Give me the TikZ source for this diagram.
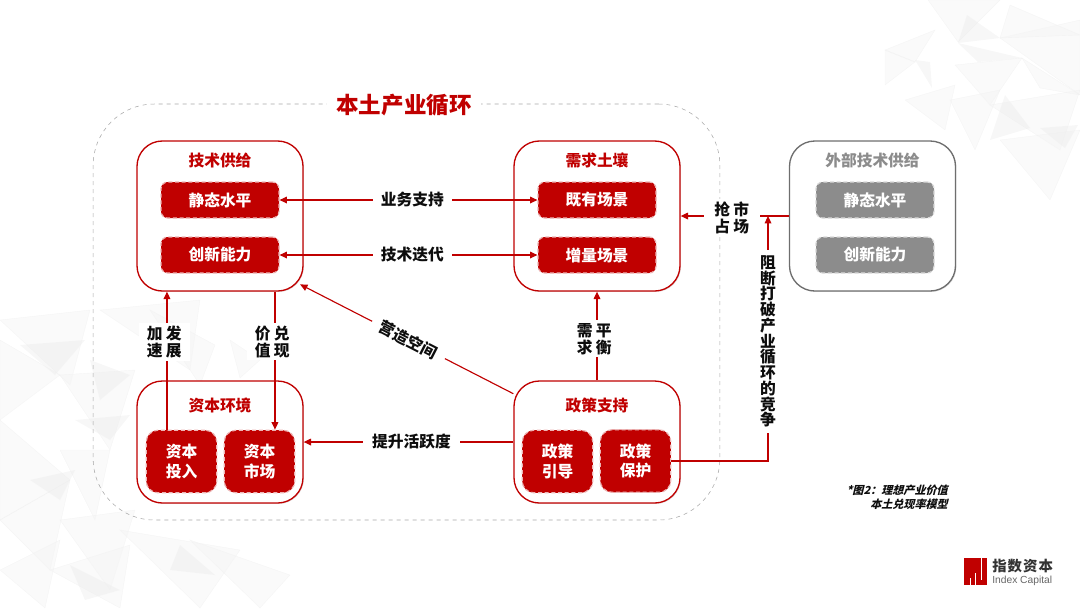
\documentclass[tikz,border=0pt]{standalone}
\usepackage{fontspec}
\setmainfont{Noto Sans CJK SC}
\newfontfamily\capfont[FakeSlant=0.25]{Noto Sans CJK SC}
\newfontfamily\enfont{Liberation Sans}
\usepackage{xcolor}
\usepackage{tikz}
\usetikzlibrary{arrows.meta,positioning,calc,shadows}
\definecolor{brand}{HTML}{C00000}
\definecolor{brandsoft}{HTML}{EDB4B4}
\definecolor{ink}{HTML}{0D0D0D}
\definecolor{ashbox}{HTML}{6E6E6E}
\definecolor{ashchip}{HTML}{8C8C8C}
\definecolor{ashsoft}{HTML}{D9D9D9}
\definecolor{ashline}{HTML}{A6A6A6}

\begin{document}
\begin{tikzpicture}[x=0.75pt,y=-0.75pt,
  loopbox/.style={draw=ashline,dashed,rounded corners=46pt,minimum width=470pt,minimum height=312pt},
  groupbox/.style={draw=brand,line width=1pt,fill=white,rounded corners=19pt,minimum width=124.5pt,
                   drop shadow={opacity=.25,shadow xshift=.7pt,shadow yshift=-.7pt}},
  tallbox/.style={groupbox,minimum height=112.5pt},
  lowbox/.style={groupbox,minimum height=91.5pt},
  headlbl/.style={font=\bfseries\fontsize{11.8}{14}\selectfont,text=brand},
  chip/.style={draw=brandsoft,densely dashed,line width=.9pt,fill=brand,text=white,align=center,
               font=\bfseries\fontsize{11.8}{14.5}\selectfont},
  widechip/.style={chip,rounded corners=5pt,minimum width=88.5pt,minimum height=27pt},
  squarechip/.style={chip,rounded corners=9pt,minimum width=53pt,minimum height=47pt},
  arr/.style={-{Triangle[length=5.5pt,width=5pt]},line width=.85pt,brand},
  lbl/.style={font=\bfseries\fontsize{11.8}{12.8}\selectfont,text=ink,fill=white,align=center,
              inner xsep=6pt,inner ysep=2pt},
  meshsoft/.style={fill=black!4,draw=black!6,line width=.3pt,opacity=.55},
  meshdark/.style={fill=black!8,draw=none,opacity=.4}
]
  \useasboundingbox (0,0) rectangle (1080,608);

  % faint mesh behind everything
  \foreach \xa/\ya/\xb/\yb/\xc/\yc in {
    1000/38/1080/20/1080/95, 1010/5/1080/35/1000/38, 955/65/1022/58/990/105, 885/50/935/30/915/62,
    885/50/915/62/885/85, 928/0/1000/0/958/42, 950/100/1000/90/975/150, 990/105/1080/90/1060/150,
    1000/140/1080/130/1050/200, 905/100/955/85/945/130, 1022/58/1080/95/1040/88,
    0/320/90/310/70/385, 0/340/60/375/0/420, 60/375/135/370/110/450, 0/420/70/480/0/520,
    60/450/110/450/95/520, 0/520/70/480/50/570, 60/520/135/510/110/590, 0/570/60/540/45/608,
    50/570/130/545/120/608, 120/530/240/550/200/608, 190/540/290/575/260/608, 100/310/200/300/190/370,
    150/310/215/345/200/385, 230/340/260/360/240/378}
    \fill[meshsoft] (\xa,\ya) -- (\xb,\yb) -- (\xc,\yc) -- cycle;
  \foreach \xa/\ya/\xb/\yb/\xc/\yc in {
    967/15/1000/38/958/43, 958/43/1022/58/978/62, 915/60/932/88/930/62, 1005/95/1030/128/990/140,
    1040/128/1078/125/1065/148, 20/345/85/340/55/375, 75/420/130/415/110/440, 30/480/75/470/60/500,
    90/360/130/375/100/400, 70/565/120/590/85/600, 180/545/215/575/170/570}
    \fill[meshdark] (\xa,\ya) -- (\xb,\yb) -- (\xc,\yc) -- cycle;

  % the loop frame and its title
  \node[loopbox] (loopframe) at (406.5,312) {};
  \node[font=\bfseries\fontsize{16.9}{20}\selectfont,text=brand,fill=white,inner xsep=7pt,inner ysep=1pt] (looptitle) at (404,105) {本土产业循环};

  % outer boxes
  \node[tallbox] (techsupply) at (220,216) {};
  \node[tallbox] (demandsoil) at (597,216) {};
  \node[tallbox,draw=ashbox] (extsupply) at (872.5,216) {};
  \node[lowbox] (capitalenv) at (220,442) {};
  \node[lowbox] (policysup) at (597,442) {};

  \node[headlbl] (techhead) at (220,160) {技术供给};
  \node[headlbl] (soilhead) at (597,160) {需求土壤};
  \node[headlbl,text=ashchip] (exthead) at (872.5,160) {外部技术供给};
  \node[headlbl] (caphead) at (220,405) {资本环境};
  \node[headlbl] (polhead) at (597,405) {政策支持};

  % chips
  \node[widechip] (staticlevel) at (220,200) {静态水平};
  \node[widechip] (innovation) at (220,255) {创新能力};
  \node[widechip] (existscene) at (597,200) {既有场景};
  \node[widechip] (growscene) at (597,255) {增量场景};
  \node[widechip,fill=ashchip,draw=ashsoft] (extstatic) at (875,200) {静态水平};
  \node[widechip,fill=ashchip,draw=ashsoft] (extinnov) at (875,255) {创新能力};
  \node[squarechip] (capinput) at (181.5,461.5) {资本\\投入};
  \node[squarechip] (capmarket) at (259.5,461.5) {资本\\市场};
  \node[squarechip] (polguide) at (557.5,461.5) {政策\\引导};
  \node[squarechip] (polguard) at (635.5,461) {政策\\保护};

  % connectors
  \draw[arr,{Triangle[length=5.5pt,width=5pt]}-{Triangle[length=5.5pt,width=5pt]}] (staticlevel) -- node[lbl,pos=.515]{业务支持} (existscene);
  \draw[arr,{Triangle[length=5.5pt,width=5pt]}-{Triangle[length=5.5pt,width=5pt]}] (innovation) -- node[lbl,pos=.515]{技术迭代} (growscene);
  \draw[arr] (extsupply.west) -- node[lbl,pos=.527,yshift=-1.5pt,inner xsep=8pt]{抢\hspace{2.5pt}市\\占\hspace{2.5pt}场} (demandsoil.east);
  \coordinate (cutpoint) at (768,216);
  \draw[arr] (polguard.east) -- (polguard.east -| cutpoint)
    -- node[lbl,pos=.488,inner xsep=2pt,inner ysep=4pt,font=\bfseries\fontsize{11.8}{11.8}\selectfont]{阻\\断\\打\\破\\产\\业\\循\\环\\的\\竞\\争} (cutpoint);
  \draw[arr] ([xshift=-10.9pt]capinput.north) -- node[lbl,pos=.637,xshift=-2pt]{加\hspace{2.5pt}发\\速\hspace{2.5pt}展} ([xshift=-10.9pt]capinput.north |- techsupply.south);
  \draw[arr] ([xshift=11.6pt]capmarket.north |- techsupply.south) -- node[lbl,pos=.363,xshift=-2pt]{价\hspace{2.5pt}兑\\值\hspace{2.5pt}现} ([xshift=11.6pt]capmarket.north);
  \draw[arr] (policysup.north) -- node[lbl,pos=.467,xshift=-2pt]{需\hspace{2.5pt}平\\求\hspace{2.5pt}衡} (demandsoil.south);
  \draw[arr,shorten >=-3pt] (policysup.150) -- node[lbl,sloped,inner xsep=7pt]{营造空间} (techsupply.-40);
  \draw[arr] (policysup.west) -- node[lbl,pos=.486,inner xsep=7pt]{提升活跃度} (capitalenv.east);

  % caption and logo
  \node[font=\capfont\bfseries\fontsize{8.3}{10.5}\selectfont,text=ink,align=right,anchor=east,inner sep=0pt] (figcaption) at (948,497) {*图2：理想产业价值\\本土兑现率模型};
  \node[fill=brand,minimum width=17.25pt,minimum height=20.25pt,inner sep=0pt] (logomark) at (975.5,571.5) {};
  \fill[white] (980.5,558) rectangle (982,580);
  \fill[white] (974.5,573) rectangle (976,585);
  \fill[white] (969.5,578) rectangle (970.5,585);
  \node[font=\bfseries\fontsize{10.8}{12}\selectfont,text=black!80,anchor=west,inner sep=0pt] (logocn) at (992,566) {指\hspace{0.8pt}数\hspace{0.8pt}资\hspace{0.8pt}本};
  \node[font=\enfont\fontsize{7.7}{9}\selectfont,text=black!60,anchor=west,inner sep=0pt] (logoen) at (992,581) {Index Capital};
\end{tikzpicture}
\end{document}
